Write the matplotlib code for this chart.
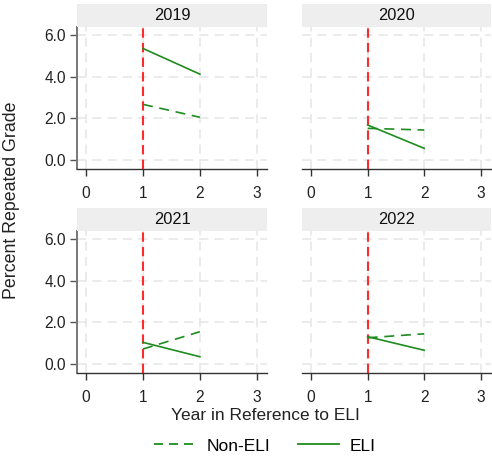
import matplotlib
matplotlib.use("Agg")
import matplotlib.pyplot as plt
from matplotlib.lines import Line2D

plt.rcParams['font.family'] = ['Liberation Sans', 'DejaVu Sans']

# Data
years = ["2019", "2020", "2021", "2022"]
rel_year = [1, 2]
eli = {
    "2019": [5.35, 4.12],
    "2020": [1.68, 0.56],
    "2021": [1.04, 0.35],
    "2022": [1.31, 0.66],
}
non_eli = {
    "2019": [2.67, 2.05],
    "2020": [1.52, 1.44],
    "2021": [0.72, 1.55],
    "2022": [1.26, 1.45],
}
x_ticks = [0, 1, 2, 3]
y_ticks = [0, 2, 4, 6]
y_tick_labels = ["0.0", "2.0", "4.0", "6.0"]

W, H = 492, 459
GREEN = "#1e8c1e"
RED = "#ff2a2a"
GRID = "#e6e6e6"

fig = plt.figure(figsize=(W / 100, H / 100), dpi=100)


def px_axes(x0, y0, x1, y1):
    return fig.add_axes([x0 / W, 1 - y1 / H, (x1 - x0) / W, (y1 - y0) / H])


cols = [(77, 267), (302, 491)]
rows = [(27, 169), (231, 373)]
strip_h = 23

for i, yr in enumerate(years):
    r, c = divmod(i, 2)
    x0, x1 = cols[c]
    y0, y1 = rows[r]
    ax = px_axes(x0, y0, x1, y1)
    ax.set_xlim(-0.16, 3.18)
    ax.set_ylim(-0.43, 6.38)
    ax.set_xticks(x_ticks)
    ax.set_yticks(y_ticks)
    ax.grid(True, color=GRID, linestyle=(0, (6, 4)), linewidth=1.1)
    ax.set_axisbelow(True)
    ax.axvline(1, color=RED, linestyle=(0, (4.5, 2.5)), linewidth=1.5, zorder=3)
    ax.plot(rel_year, non_eli[yr], color=GREEN, linestyle=(0, (6, 4)), linewidth=1.2, zorder=4)
    ax.plot(rel_year, eli[yr], color=GREEN, linestyle="-", linewidth=1.2, zorder=4)

    for s in ["top", "right"]:
        ax.spines[s].set_visible(False)
    ax.spines["bottom"].set_color("#333333")
    ax.spines["bottom"].set_linewidth(1.0)
    ax.tick_params(axis="x", direction="out", length=5, width=1.0, color="#333333",
                   labelsize=11.2, pad=7, labelcolor="#222222")
    if c == 0:
        ax.spines["left"].set_color("#777777")
        ax.spines["left"].set_linewidth(1.4)
        ax.set_yticklabels(y_tick_labels)
        ax.tick_params(axis="y", direction="out", length=5, width=1.0, color="#555555",
                       labelsize=11.2, pad=3, labelcolor="#222222")
    else:
        ax.spines["left"].set_visible(False)
        ax.tick_params(axis="y", length=0, labelleft=False)

    # facet strip
    sax = px_axes(x0, y0 - strip_h, x1, y0)
    sax.set_facecolor("#eeeeee")
    sax.set_xticks([])
    sax.set_yticks([])
    for s in sax.spines.values():
        s.set_visible(False)
    sax.text(0.5, 0.48, yr, ha="center", va="center", fontsize=11.8, color="#111111",
             transform=sax.transAxes)

fig.text(12 / W, 1 - 200 / H, "Percent Repeated Grade", rotation=90, ha="center",
         va="center", fontsize=12.8, color="#222222")
fig.text(265 / W, 1 - 415 / H, "Year in Reference to ELI", ha="center", va="center",
         fontsize=12.5, color="#222222")

handles = [
    Line2D([], [], color=GREEN, linestyle=(0, (5, 3.3)), linewidth=1.3),
    Line2D([], [], color=GREEN, linestyle="-", linewidth=1.3),
]
fig.legend(handles, ["Non-ELI", "ELI"], loc="center", bbox_to_anchor=(265 / W, 1 - 446 / H),
           ncol=2, frameon=False, fontsize=12.5, handlelength=2.4, columnspacing=1.6,
           handletextpad=0.6)

fig.savefig("out.png", dpi=100, facecolor="white")
